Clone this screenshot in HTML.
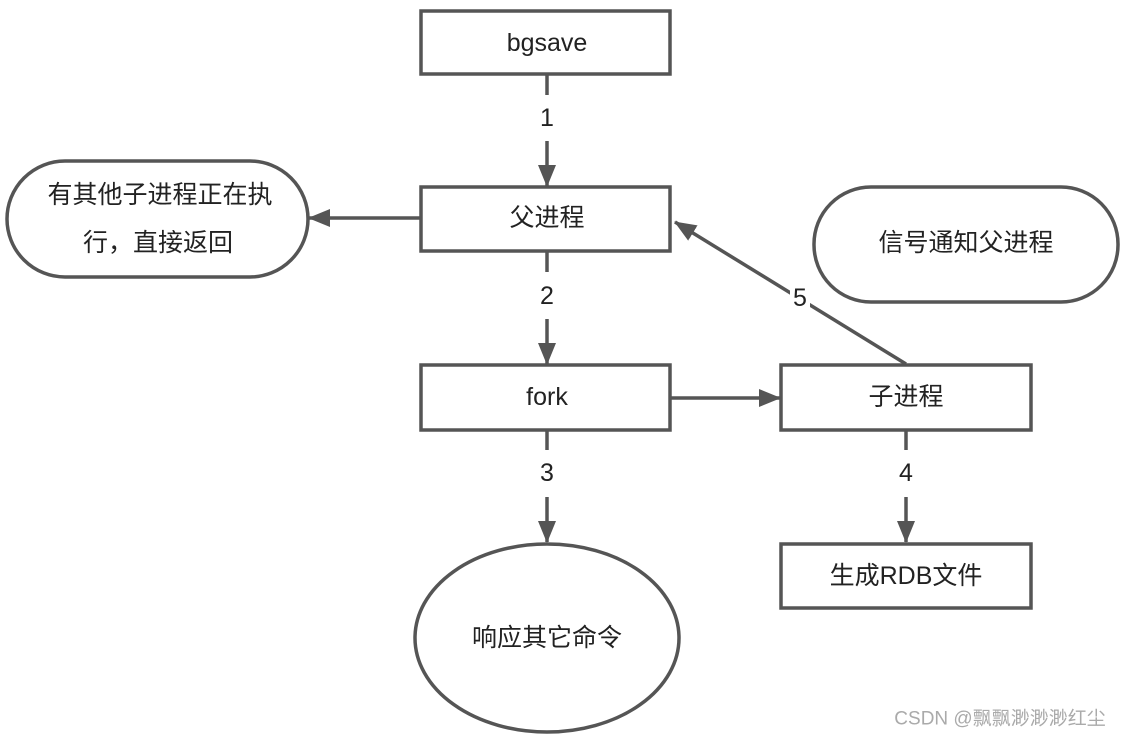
<!DOCTYPE html>
<html><head><meta charset="utf-8"><style>
body{margin:0;background:#fff}
svg text{font-family:"Liberation Sans","Noto Sans CJK SC",sans-serif;font-size:25px;fill:#222;text-anchor:middle;dominant-baseline:central}
</style></head><body>
<svg width="1122" height="740" xmlns="http://www.w3.org/2000/svg">
<defs><marker id="a" markerWidth="8" markerHeight="8" refX="7" refY="4" orient="auto" markerUnits="userSpaceOnUse"><path d="M0,0 L8,4 L0,8 z" fill="#555"/></marker>
<marker id="b" markerWidth="22" markerHeight="18" refX="21" refY="9" orient="auto" markerUnits="userSpaceOnUse"><path d="M0,0 L22,9 L0,18 z" fill="#555"/></marker></defs>
<g fill="#fff" stroke="#555" stroke-width="3.5">
<rect x="421" y="11" width="249" height="63"/>
<rect x="421" y="187" width="249" height="64"/>
<rect x="421" y="365" width="249" height="65"/>
<rect x="781" y="365" width="250" height="65"/>
<rect x="781" y="544" width="250" height="64"/>
<ellipse cx="547" cy="638" rx="132" ry="94"/>
<rect x="7" y="161" width="301" height="116" rx="58"/>
<rect x="814" y="187" width="304" height="115" rx="57"/>
</g>
<g stroke="#555" stroke-width="3.5" fill="none">
<line x1="547" y1="74" x2="547" y2="95"/><line x1="547" y1="141" x2="547" y2="186" marker-end="url(#b)"/>
<line x1="547" y1="251" x2="547" y2="272"/><line x1="547" y1="319" x2="547" y2="364" marker-end="url(#b)"/>
<line x1="547" y1="430" x2="547" y2="450"/><line x1="547" y1="497" x2="547" y2="542" marker-end="url(#b)"/>
<line x1="906" y1="430" x2="906" y2="450"/><line x1="906" y1="497" x2="906" y2="542" marker-end="url(#b)"/>
<line x1="420" y1="218" x2="309" y2="218" marker-end="url(#b)"/>
<line x1="671" y1="398" x2="780" y2="398" marker-end="url(#b)"/>
<line x1="906" y1="364" x2="675" y2="222" marker-end="url(#b)"/>
</g>
<text x="547" y="43">bgsave</text>
<text x="547" y="218">父进程</text>
<text x="547" y="397">fork</text>
<text x="906" y="397">子进程</text>
<text x="906" y="576">生成RDB文件</text>
<text x="547" y="638">响应其它命令</text>
<text x="160" y="195">有其他子进程正在执</text>
<text x="158" y="243">行，直接返回</text>
<text x="966" y="243">信号通知父进程</text>
<text x="547" y="118">1</text><text x="547" y="296">2</text><text x="547" y="473">3</text><text x="906" y="473">4</text>
<rect x="790" y="286" width="20" height="24" fill="#fff"/><text x="800" y="298">5</text>
<text x="1000" y="719" style="font-size:19px;fill:#aaa">CSDN @飘飘渺渺渺红尘</text>
</svg>
</body></html>
